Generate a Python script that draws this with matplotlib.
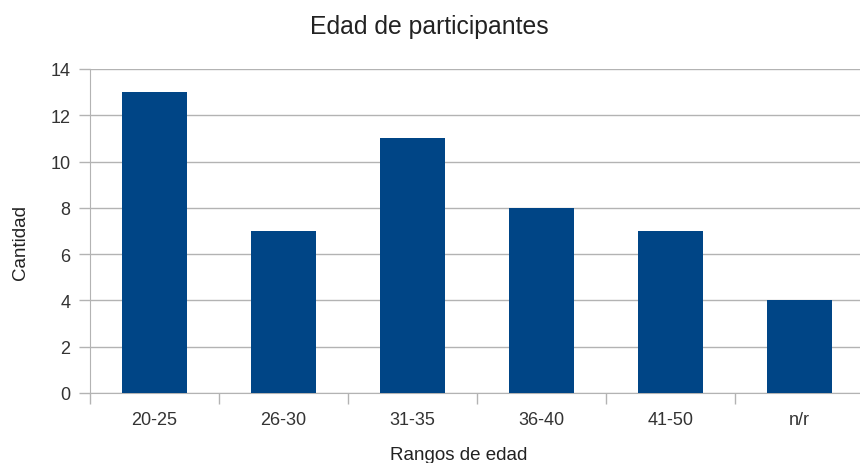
import matplotlib
matplotlib.use("Agg")
import matplotlib.pyplot as plt
from matplotlib.ticker import FixedLocator, NullFormatter

plt.rcParams['font.family'] = ['Liberation Sans', 'DejaVu Sans']

# Participant counts per age range
rangos = ["20-25", "26-30", "31-35", "36-40", "41-50", "n/r"]
cantidad = [13, 7, 11, 8, 7, 4]

fig = plt.figure(figsize=(8.6, 4.64), dpi=100)
ax = fig.add_axes([90 / 860, 70 / 464, 774 / 860, 324 / 464])

x = list(range(len(rangos)))
ax.bar(x, cantidad, width=0.5, color="#004586", zorder=3)

ax.set_xlim(-0.5, len(rangos) - 0.5)
ax.set_ylim(0, 14)
ax.set_yticks(range(0, 15, 2))
ax.yaxis.grid(True, color="#b3b3b3", linewidth=1, zorder=0)

# category labels centred, tick marks on the boundaries
ax.set_xticks(x)
ax.set_xticklabels(rangos)
ax.xaxis.set_minor_locator(FixedLocator([i - 0.5 for i in range(len(rangos) + 1)]))
ax.xaxis.set_minor_formatter(NullFormatter())
ax.tick_params(axis="x", which="major", length=0, pad=13, labelsize=13, colors="#333333")
ax.tick_params(axis="x", which="minor", length=8, color="#b3b3b3", width=1)
ax.tick_params(axis="y", length=8, color="#b3b3b3", width=1, pad=6, labelsize=13, labelcolor="#333333")

for side in ["top", "right"]:
    ax.spines[side].set_visible(False)
for side in ["left", "bottom"]:
    ax.spines[side].set_color("#b3b3b3")

fig.text(429 / 860, 1 - 27 / 464, "Edad de participantes", ha="center", va="center",
         fontsize=17.8, color="#222222")
fig.text(21 / 860, 1 - 243 / 464, "Cantidad", rotation=90, ha="center", va="center",
         fontsize=13.5, color="#222222")
fig.text(459 / 860, 1 - 456 / 464, "Rangos de edad", ha="center", va="center",
         fontsize=13.5, color="#222222")

fig.savefig("out.png", dpi=100)
